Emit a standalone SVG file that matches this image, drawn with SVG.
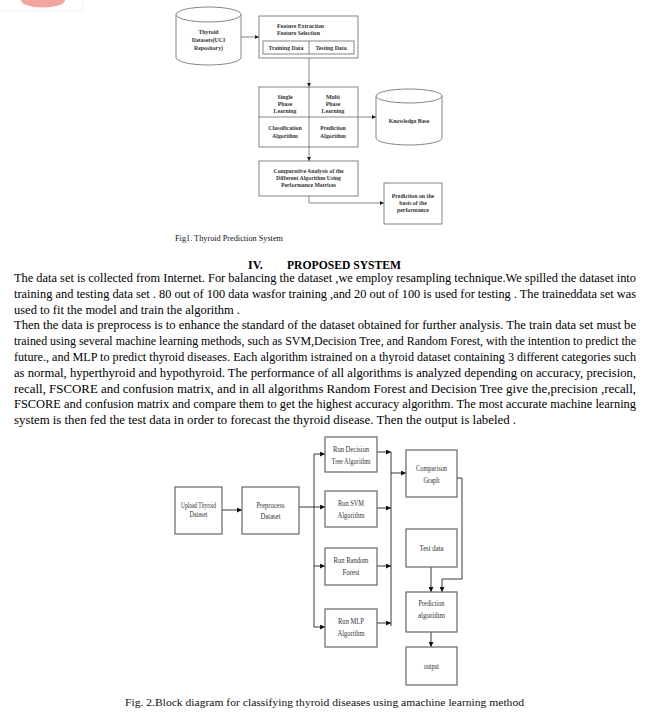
<svg xmlns="http://www.w3.org/2000/svg" width="648" height="713" viewBox="0 0 648 713">
<defs>
<marker id="ah" viewBox="0 0 6 6" refX="6" refY="3" markerWidth="4" markerHeight="4" orient="auto" markerUnits="userSpaceOnUse"><path d="M0,0 L6,3 L0,6 Z" fill="#222"/></marker>
<marker id="ah2" viewBox="0 0 6 6" refX="6" refY="3" markerWidth="5" markerHeight="5" orient="auto" markerUnits="userSpaceOnUse"><path d="M0,0 L6,3 L0,6 Z" fill="#111"/></marker>
</defs>
<style>
.t1box{fill:#fff;stroke:#777;stroke-width:0.9}
.t1{font-family:"Liberation Serif",serif;font-weight:bold;font-size:5.8px;fill:#333;text-anchor:middle}
.t1l{font-family:"Liberation Serif",serif;font-weight:bold;font-size:5.8px;fill:#333}
.c1{fill:none;stroke:#555;stroke-width:0.7}
.b2{fill:#fff;stroke:#666;stroke-width:1.2}
.t2{font-family:"Liberation Serif",serif;font-size:8.5px;fill:#333;text-anchor:middle}
.c2{fill:none;stroke:#222;stroke-width:0.9}
.body{font-family:"Liberation Serif",serif;font-size:12px;fill:#000}
.cap{font-family:"Liberation Serif",serif;fill:#111}
</style>
<rect width="648" height="713" fill="#fff"/>
<g id="logo">
<rect x="-1" y="-1" width="84" height="12" fill="none" stroke="#eee" stroke-width="0.8"/>
<path d="M21,0 A22,7.5 0 0 0 65,0 Z" fill="#f4a5a2"/>
</g>

<!-- Figure 1 -->
<g id="fig1-connectors">
<line class="c1" x1="241" y1="37" x2="259" y2="37" marker-end="url(#ah)"/>
<line class="c1" x1="309" y1="58" x2="309" y2="87" marker-end="url(#ah)"/>
<line class="c1" x1="358" y1="117" x2="376" y2="117" marker-end="url(#ah)"/>
<line class="c1" x1="309" y1="147" x2="309" y2="161" marker-end="url(#ah)"/>
<polyline class="c1" points="309,196 309,203 384,203" marker-end="url(#ah)"/>
</g>
<g id="thyroid-datasets">
<path class="t1box" d="M176,14.5 A32.5,7.5 0 0 1 241,14.5 L241,57.5 A32.5,7.5 0 0 1 176,57.5 Z"/>
<path class="t1box" d="M176,14.5 A32.5,7.5 0 0 0 241,14.5" fill="none"/>
<text class="t1" x="208.5" y="34">Thyroid</text>
<text class="t1" x="208.5" y="41.5">Datasets(UCI</text>
<text class="t1" x="208.5" y="49.5">Repository)</text>
</g>
<g id="feature-box">
<rect class="t1box" x="259" y="16" width="99" height="42"/>
<text class="t1l" x="277" y="27.5">Feature Extraction</text>
<text class="t1l" x="277" y="34.5">Feature Selection</text>
<rect class="t1box" x="263" y="41" width="91" height="13"/>
<line class="c1" x1="309" y1="41" x2="309" y2="54"/>
<text class="t1" x="286" y="49.5">Training Data</text>
<text class="t1" x="331" y="49.5">Testing Data</text>
</g>
<g id="learning-box">
<rect class="t1box" x="259" y="87" width="99" height="60"/>
<line class="c1" x1="309" y1="87" x2="309" y2="147"/>
<line class="c1" x1="259" y1="117" x2="358" y2="117"/>
<text class="t1" x="285" y="99">Single</text>
<text class="t1" x="285" y="106">Phase</text>
<text class="t1" x="285" y="113">Learning</text>
<text class="t1" x="333" y="99">Multi</text>
<text class="t1" x="333" y="106">Phase</text>
<text class="t1" x="333" y="113">Learning</text>
<text class="t1" x="285" y="130">Classification</text>
<text class="t1" x="285" y="138">Algorithm</text>
<text class="t1" x="333" y="130">Prediction</text>
<text class="t1" x="333" y="138">Algorithm</text>
</g>
<g id="knowledge-base">
<path class="t1box" d="M376,96 A33,7 0 0 1 442,96 L442,138 A33,7 0 0 1 376,138 Z"/>
<path class="t1box" d="M376,96 A33,7 0 0 0 442,96" fill="none"/>
<text class="t1" x="409" y="123">Knowledge Base</text>
</g>
<g id="comparative-analysis">
<rect class="t1box" x="259" y="161" width="99" height="35"/>
<text class="t1" x="308.5" y="173">Comparative Analysis of the</text>
<text class="t1" x="308.5" y="180">Different Algorithm Using</text>
<text class="t1" x="308.5" y="187">Performance Metrices</text>
</g>
<g id="prediction-performance">
<rect class="t1box" x="384" y="183" width="58" height="41"/>
<text class="t1" x="413" y="198">Prediction on the</text>
<text class="t1" x="413" y="205">basis of the</text>
<text class="t1" x="413" y="212">performance</text>
</g>
<text class="cap" x="175" y="240.5" font-size="7.8" textLength="108" lengthAdjust="spacingAndGlyphs">Fig1. Thyroid Prediction System</text>

<!-- Body text -->
<g id="section-text">
<text class="body" x="248" y="269" font-weight="bold" font-size="11.5">IV.</text>
<text class="body" x="287" y="269" font-weight="bold" font-size="11.5" textLength="114" lengthAdjust="spacingAndGlyphs">PROPOSED SYSTEM</text>
<text class="body" x="14" y="282" textLength="622" lengthAdjust="spacingAndGlyphs">The data set is collected from Internet. For balancing the dataset ,we employ resampling technique.We  spilled  the dataset into</text>
<text class="body" x="14" y="297.8" textLength="622" lengthAdjust="spacingAndGlyphs">training and testing data set . 80 out of 100 data wasfor training ,and 20 out of 100 is used for testing . The traineddata set was</text>
<text class="body" x="14" y="313.6" textLength="226" lengthAdjust="spacingAndGlyphs">used to fit the model and train the algorithm .</text>
<text class="body" x="14" y="329.4" textLength="622" lengthAdjust="spacingAndGlyphs">Then the data is preprocess is to enhance the standard of  the dataset obtained for further analysis. The train data set must be</text>
<text class="body" x="14" y="345.2" textLength="622" lengthAdjust="spacingAndGlyphs">trained using several machine learning methods, such as SVM,Decision Tree, and Random Forest, with the intention to predict the</text>
<text class="body" x="14" y="361" textLength="622" lengthAdjust="spacingAndGlyphs">future., and MLP to predict thyroid diseases. Each algorithm istrained on a thyroid dataset containing 3 different categories such</text>
<text class="body" x="14" y="376.8" textLength="622" lengthAdjust="spacingAndGlyphs">as  normal, hyperthyroid and hypothyroid. The performance  of  all  algorithms is analyzed  depending on accuracy, precision,</text>
<text class="body" x="14" y="392.6" textLength="622" lengthAdjust="spacingAndGlyphs">recall, FSCORE and  confusion  matrix,  and in all algorithms Random Forest and Decision Tree give the,precision ,recall,</text>
<text class="body" x="14" y="408.4" textLength="622" lengthAdjust="spacingAndGlyphs">FSCORE and  confusion matrix  and  compare them to get the  highest accuracy algorithm. The most accurate machine learning</text>
<text class="body" x="14" y="424.2" textLength="502" lengthAdjust="spacingAndGlyphs">system is then fed the test data in order to forecast the thyroid disease. Then the output is labeled .</text>
</g>

<!-- Figure 2 -->
<g id="fig2-connectors">
<line class="c2" x1="222" y1="510" x2="242" y2="510" marker-end="url(#ah2)"/>
<line class="c2" x1="299" y1="507" x2="314" y2="507"/>
<line class="c2" x1="314" y1="454" x2="314" y2="627"/>
<line class="c2" x1="314" y1="454" x2="325" y2="454" marker-end="url(#ah2)"/>
<line class="c2" x1="314" y1="507" x2="325" y2="507" marker-end="url(#ah2)"/>
<line class="c2" x1="314" y1="566" x2="325" y2="566" marker-end="url(#ah2)"/>
<line class="c2" x1="314" y1="627" x2="325" y2="627" marker-end="url(#ah2)"/>
<line class="c2" x1="377" y1="452" x2="391" y2="452" marker-end="url(#ah2)"/>
<line class="c2" x1="377" y1="508" x2="391" y2="508" marker-end="url(#ah2)"/>
<line class="c2" x1="377" y1="566" x2="391" y2="566" marker-end="url(#ah2)"/>
<line class="c2" x1="377" y1="623" x2="391" y2="623" marker-end="url(#ah2)"/>
<line class="c2" x1="391" y1="452" x2="391" y2="626"/>
<line class="c2" x1="391" y1="473" x2="406" y2="473" marker-end="url(#ah2)"/>
<polyline class="c2" points="457,478 462,478 462,579 442,579 442,592" marker-end="url(#ah2)"/>
<line class="c2" x1="431" y1="567" x2="431" y2="592" marker-end="url(#ah2)"/>
<line class="c2" x1="431" y1="632" x2="431" y2="647" marker-end="url(#ah2)"/>
</g>
<g id="upload-dataset">
<rect class="b2" x="175" y="487" width="47" height="47"/>
<text class="t2" x="198.5" y="508" font-size="7" textLength="35" lengthAdjust="spacingAndGlyphs">Upload Thyroid</text>
<text class="t2" x="198.5" y="517" font-size="7" textLength="18" lengthAdjust="spacingAndGlyphs">Dataset</text>
</g>
<g id="preprocess-dataset">
<rect class="b2" x="242" y="487" width="57" height="47"/>
<text class="t2" x="270.5" y="508" textLength="28" lengthAdjust="spacingAndGlyphs">Preprocess</text>
<text class="t2" x="270.5" y="519" textLength="20" lengthAdjust="spacingAndGlyphs">Dataset</text>
</g>
<g id="run-decision-tree">
<rect class="b2" x="325" y="437" width="52" height="35"/>
<text class="t2" x="351" y="452" textLength="36" lengthAdjust="spacingAndGlyphs">Run Decision</text>
<text class="t2" x="351" y="464" textLength="39" lengthAdjust="spacingAndGlyphs">Tree Algorithm</text>
</g>
<g id="run-svm">
<rect class="b2" x="325" y="491" width="52" height="36"/>
<text class="t2" x="351" y="506" textLength="26" lengthAdjust="spacingAndGlyphs">Run SVM</text>
<text class="t2" x="351" y="518" textLength="27" lengthAdjust="spacingAndGlyphs">Algorithm</text>
</g>
<g id="run-random-forest">
<rect class="b2" x="325" y="548" width="52" height="37"/>
<text class="t2" x="351" y="563" textLength="35" lengthAdjust="spacingAndGlyphs">Run Random</text>
<text class="t2" x="351" y="575" textLength="17" lengthAdjust="spacingAndGlyphs">Forest</text>
</g>
<g id="run-mlp">
<rect class="b2" x="325" y="609" width="52" height="38"/>
<text class="t2" x="351" y="624" textLength="26" lengthAdjust="spacingAndGlyphs">Run MLP</text>
<text class="t2" x="351" y="636" textLength="27" lengthAdjust="spacingAndGlyphs">Algorithm</text>
</g>
<g id="comparison-graph">
<rect class="b2" x="406" y="450" width="51" height="47"/>
<text class="t2" x="431.5" y="471" textLength="31" lengthAdjust="spacingAndGlyphs">Comparison</text>
<text class="t2" x="431.5" y="483" textLength="16" lengthAdjust="spacingAndGlyphs">Graph</text>
</g>
<g id="test-data">
<rect class="b2" x="406" y="529" width="51" height="38"/>
<text class="t2" x="431.5" y="551" textLength="24" lengthAdjust="spacingAndGlyphs">Test data</text>
</g>
<g id="prediction-algorithm">
<rect class="b2" x="406" y="592" width="51" height="40"/>
<text class="t2" x="431.5" y="606" textLength="26" lengthAdjust="spacingAndGlyphs">Prediction</text>
<text class="t2" x="431.5" y="618" textLength="27" lengthAdjust="spacingAndGlyphs">algorithm</text>
</g>
<g id="output">
<rect class="b2" x="406" y="647" width="51" height="38"/>
<text class="t2" x="431.5" y="669" textLength="15" lengthAdjust="spacingAndGlyphs">output</text>
</g>
<text class="cap" x="125" y="706" font-size="10.5" textLength="399" lengthAdjust="spacingAndGlyphs">Fig. 2.Block diagram for classifying thyroid diseases using amachine learning method</text>
</svg>
